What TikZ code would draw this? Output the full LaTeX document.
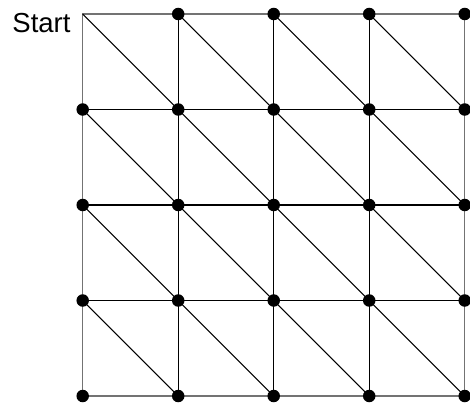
\documentclass[tikz,border=0pt]{standalone}
\usepackage{fontspec}
\setmainfont{Liberation Sans}
\begin{document}
\begin{tikzpicture}[x=1pt,y=-1pt,
  dot/.style={circle,fill=black,inner sep=0pt,minimum size=12.5pt},
  edge/.style={draw=black,line width=1.1pt},
  rim/.style={draw=black!55,line width=1.2pt}]
\useasboundingbox (0,0) rectangle (470,404);
% grid points
\foreach \i in {0,...,4}{
  \foreach \j in {0,...,4}{
    \coordinate (p-\i-\j) at ({82.7+95.5*\i},{14+95.5*\j});
  }
}
% horizontal and vertical interior lines
\foreach \k in {1,2,3}{
  \draw[edge] (p-0-\k) -- (p-4-\k);
  \draw[edge] (p-\k-0) -- (p-\k-4);
}
% border
\draw[rim] (p-0-0) -- (p-4-0) -- (p-4-4) -- (p-0-4) -- cycle;
% diagonals
\foreach \i in {0,...,3}{
  \foreach \j in {0,...,3}{
    \pgfmathtruncatemacro{\ii}{\i+1}
    \pgfmathtruncatemacro{\jj}{\j+1}
    \draw[edge] (p-\i-\j) -- (p-\ii-\jj);
  }
}
% dots
\foreach \i in {0,...,4}{
  \foreach \j in {0,...,4}{
    \pgfmathtruncatemacro{\s}{\i+\j}
    \ifnum\s>0
      \node[dot] (d-\i-\j) at (p-\i-\j) {};
    \fi
  }
}
\node[anchor=base east,font=\fontsize{27.5pt}{30pt}\selectfont,inner sep=0pt] (start) at (70.7,32.4) {Start};
\end{tikzpicture}
\end{document}
